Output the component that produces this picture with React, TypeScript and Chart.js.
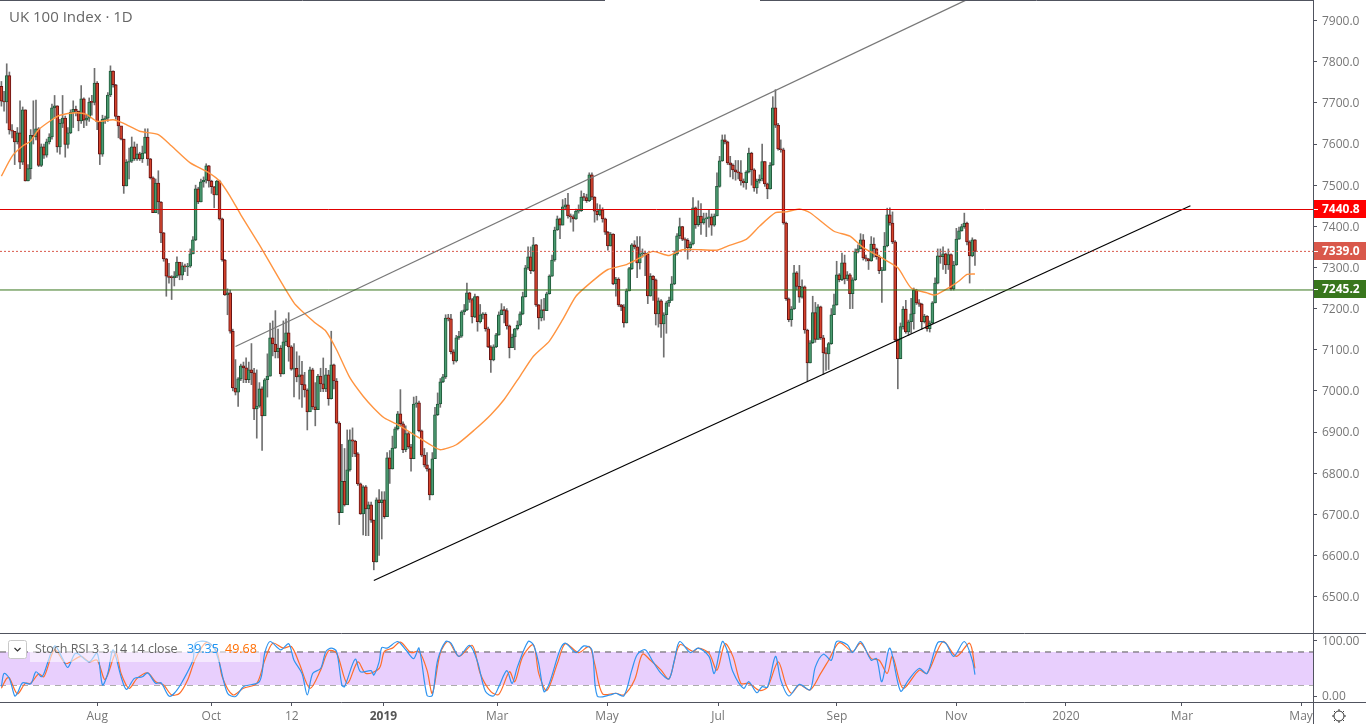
import React, { useEffect, useRef } from "react";
import { Chart, registerables } from "chart.js";

Chart.register(...registerables);

const title = "UK 100 Index · 1D";
const opens = [
7740,7704,7702,7766,7634,7631,7605,7627,7556,7683,
7510,7540,7621,7617,7637,7548,7593,7573,7605,7617,
7688,7693,7593,7650,7663,7599,7627,7677,7684,7680,
7656,7710,7658,7663,7702,7701,7748,7654,7575,7660,
7663,7719,7777,7744,7667,7644,7612,7498,7556,7558,
7593,7564,7576,7564,7578,7617,7564,7518,7433,7505,
7459,7384,7321,7279,7276,7275,7279,7313,7281,7304,
7301,7303,7333,7367,7491,7459,7508,7512,7547,7510,
7496,7476,7510,7418,7318,7233,7238,7145,7007,6997,
7029,7061,7056,7027,7051,7044,6956,6963,7005,6939,
7027,7036,7129,7114,7095,7104,7041,7119,7141,7107,
7053,7055,7034,7039,7015,7002,6949,7051,6961,6954,
7036,7017,7005,7039,6981,7063,7024,6922,6704,6780,
6723,6808,6881,6878,6847,6774,6701,6767,6713,6723,
6686,6584,6735,6728,6735,6694,6837,6810,6861,6908,
6944,6920,6857,6896,6864,6835,6968,6971,6903,6844,
6820,6810,6747,6835,6942,6968,7022,7034,7177,7175,
7095,7073,7129,7133,7192,7197,7238,7222,7180,7229,
7168,7185,7186,7151,7107,7075,7107,7136,7185,7197,
7195,7158,7105,7131,7151,7160,7187,7229,7299,7326,
7292,7355,7209,7177,7197,7195,7236,7279,7318,7391,
7418,7403,7447,7452,7425,7423,7418,7437,7438,7471,
7470,7462,7525,7471,7437,7428,7440,7418,7386,7352,
7381,7260,7272,7209,7204,7165,7243,7297,7355,7350,
7311,7333,7335,7332,7231,7279,7270,7187,7219,7163,
7185,7214,7220,7260,7333,7377,7399,7369,7366,7348,
7357,7445,7404,7425,7408,7418,7420,7423,7403,7425,
7497,7559,7610,7605,7554,7549,7537,7532,7530,7510,
7506,7532,7578,7537,7493,7510,7515,7557,7503,7491,
7549,7688,7646,7588,7586,7408,7224,7173,7199,7287,
7254,7228,7253,7148,7068,7117,7190,7125,7204,7129,
7092,7090,7115,7185,7209,7282,7270,7311,7272,7282,
7236,7270,7338,7345,7367,7323,7321,7316,7357,7345,
7326,7292,7293,7352,7428,7408,7362,7124,7078,7156,
7199,7143,7168,7187,7245,7214,7211,7168,7182,7151,
7165,7214,7262,7328,7326,7333,7306,7331,7248,7306,
7369,7389,7399,7408,7362,7328,7367];
const closes = [
7704,7702,7766,7634,7631,7605,7627,7556,7683,7510,
7540,7621,7617,7637,7548,7593,7573,7605,7617,7688,
7693,7593,7650,7663,7599,7627,7677,7684,7680,7656,
7710,7658,7663,7702,7701,7748,7654,7575,7660,7663,
7719,7777,7744,7667,7644,7612,7498,7556,7558,7593,
7564,7576,7564,7578,7617,7564,7518,7433,7505,7459,
7384,7321,7279,7276,7275,7279,7313,7281,7304,7301,
7303,7333,7367,7491,7459,7508,7512,7547,7510,7496,
7476,7510,7418,7318,7233,7238,7145,7007,6997,7029,
7061,7056,7027,7051,7044,6956,6963,7005,6939,7027,
7036,7129,7114,7095,7104,7041,7119,7141,7107,7053,
7055,7034,7039,7015,7002,6949,7051,6961,6954,7036,
7017,7005,7039,6981,7063,7024,6922,6704,6780,6723,
6808,6881,6878,6847,6774,6701,6767,6713,6723,6686,
6584,6735,6728,6735,6694,6837,6810,6861,6908,6944,
6920,6857,6896,6864,6835,6968,6971,6903,6844,6820,
6810,6747,6835,6942,6968,7022,7034,7177,7175,7095,
7073,7129,7133,7192,7197,7238,7222,7180,7229,7168,
7185,7186,7151,7107,7075,7107,7136,7185,7197,7195,
7158,7105,7131,7151,7160,7187,7229,7299,7326,7292,
7355,7209,7177,7197,7195,7236,7279,7318,7391,7418,
7403,7447,7452,7425,7423,7418,7437,7438,7471,7470,
7462,7525,7471,7437,7428,7440,7418,7386,7352,7381,
7260,7272,7209,7204,7165,7243,7297,7355,7350,7311,
7333,7335,7332,7231,7279,7270,7187,7219,7163,7185,
7214,7220,7260,7333,7377,7399,7369,7366,7348,7357,
7445,7404,7425,7408,7418,7420,7423,7403,7425,7497,
7559,7610,7605,7554,7549,7537,7532,7530,7510,7506,
7532,7578,7537,7493,7510,7515,7557,7503,7491,7549,
7688,7646,7588,7586,7408,7224,7173,7199,7287,7254,
7228,7253,7148,7068,7117,7190,7125,7204,7129,7092,
7090,7115,7185,7209,7282,7270,7311,7272,7282,7236,
7270,7338,7345,7367,7323,7321,7316,7357,7345,7326,
7292,7293,7352,7428,7408,7362,7124,7078,7156,7199,
7143,7168,7187,7245,7214,7211,7168,7182,7151,7165,
7214,7262,7328,7326,7333,7306,7331,7248,7306,7369,
7389,7399,7408,7362,7328,7367,7339];
const highs = [
7752,7728,7795,7775,7647,7627,7640,7705,7690,7683,
7550,7635,7705,7707,7640,7600,7600,7612,7625,7697,
7718,7693,7660,7718,7668,7640,7683,7705,7692,7680,
7742,7712,7672,7712,7718,7784,7752,7655,7670,7668,
7725,7790,7778,7745,7668,7642,7612,7562,7590,7617,
7605,7600,7580,7595,7637,7637,7565,7520,7515,7535,
7460,7385,7322,7310,7280,7290,7326,7312,7312,7308,
7310,7345,7375,7500,7495,7515,7520,7552,7548,7512,
7497,7512,7512,7420,7320,7248,7245,7150,7076,7032,
7065,7070,7080,7070,7115,7055,7051,7020,7010,7030,
7090,7165,7170,7195,7150,7110,7170,7175,7190,7110,
7115,7095,7085,7072,7045,7005,7058,7055,7020,7040,
7055,7080,7055,7050,7145,7065,7030,6925,6870,6860,
6905,6905,6910,6880,6850,6776,6770,6770,6730,6730,
6686,6740,6760,6755,6755,6850,6855,6890,6912,6950,
7003,6925,6915,6900,6870,6985,6987,6975,6905,6860,
6850,6812,6850,6960,6995,7030,7040,7185,7186,7186,
7100,7135,7145,7195,7210,7262,7240,7225,7235,7230,
7210,7190,7190,7155,7110,7112,7140,7192,7212,7205,
7200,7160,7138,7152,7170,7192,7240,7305,7350,7350,
7373,7356,7210,7222,7225,7240,7282,7330,7398,7425,
7420,7465,7468,7480,7430,7428,7442,7452,7486,7480,
7478,7530,7530,7472,7455,7452,7445,7420,7388,7385,
7382,7276,7275,7210,7210,7248,7300,7358,7365,7375,
7375,7345,7340,7336,7285,7280,7272,7226,7222,7190,
7218,7228,7278,7340,7382,7420,7400,7372,7370,7362,
7470,7447,7462,7455,7432,7432,7440,7430,7430,7530,
7570,7622,7622,7607,7570,7552,7560,7560,7560,7515,
7535,7590,7580,7540,7515,7525,7600,7558,7505,7555,
7715,7732,7650,7610,7590,7410,7226,7205,7305,7290,
7305,7270,7255,7150,7122,7230,7215,7210,7206,7135,
7105,7118,7200,7235,7315,7285,7335,7330,7290,7285,
7275,7345,7355,7382,7380,7330,7322,7375,7372,7347,
7330,7300,7385,7444,7445,7435,7365,7126,7165,7205,
7220,7172,7225,7250,7247,7222,7213,7186,7183,7170,
7217,7275,7345,7345,7350,7335,7345,7333,7315,7395,
7398,7405,7432,7410,7365,7372,7368];
const lows = [
7692,7680,7651,7624,7615,7550,7600,7540,7550,7510,
7510,7515,7600,7610,7545,7545,7565,7568,7600,7612,
7665,7580,7575,7640,7568,7590,7625,7640,7668,7632,
7650,7640,7645,7655,7670,7695,7635,7550,7570,7650,
7655,7715,7738,7660,7615,7610,7480,7498,7515,7555,
7560,7560,7560,7555,7578,7548,7515,7433,7433,7430,
7360,7315,7230,7262,7222,7255,7275,7270,7270,7290,
7280,7300,7333,7365,7455,7459,7495,7505,7495,7480,
7445,7476,7415,7315,7232,7185,7140,7000,6990,6962,
7025,7020,7020,7020,7015,6930,6885,6960,6855,6985,
6985,7036,7085,7080,7080,7035,7041,7110,7072,7050,
6985,7022,6980,6960,6985,6905,6950,6955,6915,6954,
6998,6998,6998,6965,6980,7005,6920,6675,6704,6720,
6725,6805,6840,6840,6770,6700,6650,6648,6648,6680,
6565,6584,6600,6640,6690,6694,6775,6810,6860,6905,
6915,6850,6852,6860,6805,6835,6960,6900,6840,6815,
6805,6735,6747,6835,6940,6960,7020,7030,7170,7090,
7065,7070,7125,7130,7185,7195,7215,7165,7178,7145,
7165,7175,7145,7105,7045,7073,7105,7135,7185,7165,
7150,7080,7105,7100,7148,7158,7185,7228,7295,7285,
7290,7205,7150,7170,7172,7195,7235,7278,7315,7390,
7370,7403,7440,7420,7410,7388,7417,7432,7436,7462,
7458,7460,7465,7410,7415,7425,7410,7380,7342,7352,
7258,7230,7205,7195,7155,7165,7243,7295,7345,7275,
7296,7325,7280,7212,7230,7220,7160,7155,7130,7082,
7140,7205,7220,7258,7330,7370,7365,7340,7320,7340,
7355,7395,7400,7380,7405,7375,7398,7378,7400,7425,
7495,7558,7600,7550,7520,7515,7512,7515,7500,7495,
7490,7530,7500,7485,7480,7505,7510,7497,7467,7490,
7548,7640,7585,7580,7405,7220,7168,7157,7198,7245,
7215,7225,7140,7023,7068,7115,7118,7125,7125,7040,
7050,7052,7113,7185,7208,7265,7268,7260,7268,7200,
7200,7268,7335,7345,7318,7315,7295,7315,7325,7320,
7285,7215,7293,7350,7403,7358,7120,7005,7078,7150,
7140,7135,7140,7150,7210,7205,7150,7165,7145,7143,
7163,7214,7260,7310,7295,7285,7295,7245,7245,7305,
7368,7388,7395,7355,7262,7326,7305];

const maBars = [0,4,8,11,14,19,22,28,32,36,42,46,52,59,64,71,78,82,86,90,97,110,118,122,126,131,136,140,144,149,155,161,165,171,178,184,189,195,200,206,211,216,223,228,235,240,245,251,256,263,269,273,280,285,291,295,300,304,313,319,324,331,337,342,348,351,357,360,363,366];
const maValues = [7522,7570,7595,7607,7635,7659,7670,7676,7672,7655,7659,7650,7631,7623,7595,7554,7530,7510,7473,7428,7355,7214,7165,7145,7100,7032,6987,6958,6934,6918,6894,6870,6857,6869,6906,6942,6979,7036,7084,7121,7173,7230,7271,7295,7307,7323,7339,7329,7343,7343,7342,7352,7368,7400,7433,7435,7442,7433,7388,7376,7348,7323,7299,7250,7238,7233,7254,7267,7283,7284];

const kBars = [0,1,3,5,6,8,11,13,15,16,20,23,25,28,33,36,38,40,42,45,47,50,53,55,58,60,63,65,68,72,73,77,80,82,85,88,91,97,99,101,105,108,110,113,115,117,120,122,124,126,128,129,133,135,139,140,142,143,145,149,152,155,157,160,162,164,167,169,172,176,179,182,185,187,190,192,194,198,200,202,204,206,210,212,216,219,222,224,229,231,234,237,239,242,245,248,251,253,255,259,262,266,268,271,273,275,279,281,284,286,288,291,293,296,300,304,306,309,312,314,318,320,323,327,329,331,334,338,341,345,348,352,355,358,362,365,366];
const kValues = [17,41,32,0,5,24,22,44,35,41,91,68,52,78,62,78,20,41,84,35,12,32,35,42,23,24,0,5,26,65,96,99,87,59,5,-1,17,26,78,99,84,95,65,41,2,41,50,81,87,81,20,17,67,44,46,38,62,88,87,99,84,68,87,1,1,65,99,96,72,92,62,8,0,17,46,23,53,99,93,59,8,23,84,96,79,91,84,0,2,5,0,47,75,84,62,41,31,65,99,79,87,72,41,99,81,44,14,26,6,17,16,72,29,0,21,11,53,76,65,99,93,79,99,65,68,26,87,9,29,50,41,97,96,72,99,65,39];
const dBars = [0,2,3,6,9,11,14,16,20,24,26,30,33,36,39,43,45,48,51,55,58,61,64,67,70,73,77,81,83,87,91,96,99,102,106,109,112,116,120,123,126,130,134,137,142,144,147,150,154,157,160,162,165,168,172,177,180,184,187,191,193,196,200,202,205,209,212,217,221,223,226,231,234,238,241,244,248,251,255,260,262,266,269,272,275,278,281,285,288,292,295,297,300,304,308,311,315,320,323,327,330,333,335,339,345,348,354,359,364,366];
const dValues = [14,32,33,4,23,23,40,35,84,59,62,72,62,65,30,78,41,14,32,42,26,20,2,5,29,68,97,81,35,2,14,23,65,96,87,90,59,14,47,82,78,23,62,41,50,81,87,98,79,81,47,5,78,99,72,92,41,8,3,44,26,72,93,41,10,59,95,79,90,59,4,5,2,29,76,65,47,31,93,81,87,78,47,95,72,23,23,10,16,62,20,5,20,11,41,65,97,81,96,68,65,41,72,14,47,41,99,72,96,50];

const upperBarBar = [88, 363];
const upperBarValue = [7108, 7951];
const lowerLineBar = [140, 447];
const lowerLineValue = [6539, 7450];
const resistance = 7440.8;
const lastClose = 7339.0;
const support = 7245.2;
const priceTicks = [6500,6600,6700,6800,6900,7000,7100,7200,7300,7400,7500,7600,7700,7800,7900];
const stochTicks = [0, 100];
const stochBands = [80, 20];
const timeTickBars = [36, 78.9, 109.2, 143.6, 186.4, 227.7, 269.4, 314.1, 358.9, 400.2, 443.8, 488.6];
const timeTickLabels = ["Aug", "Oct", "12", "2019", "Mar", "May", "Jul", "Sep", "Nov", "2020", "Mar", "May"];
const stochName = "Stoch RSI 3 3 14 14 close";
const stochK = "39.35";
const stochD = "49.68";

const X_MIN = -0.526;
const X_MAX = 493.08;
const FONT = '"Open Sans", sans-serif';

const noPad = (s: any) => {
  s.paddingTop = 0;
  s.paddingBottom = 0;
  s.paddingLeft = 0;
  s.paddingRight = 0;
};

const chrome = {
  id: "chrome",
  afterDraw(chart: any) {
    const c = chart.ctx;
    const { x, y } = chart.scales;
    const right = x.right;
    c.save();
    c.strokeStyle = "#50535e";
    c.lineWidth = 1;
    c.beginPath();
    c.moveTo(0, 633.5); c.lineTo(1366, 633.5);
    c.moveTo(0, 702.5); c.lineTo(1366, 702.5);
    c.moveTo(right + 0.5, 0); c.lineTo(right + 0.5, 724);
    c.moveTo(0, 0.5); c.lineTo(605, 0.5);
    c.moveTo(760, 0.5); c.lineTo(right, 0.5);
    c.stroke();
    c.font = `15px ${FONT}`;
    c.fillStyle = "#666";
    c.textBaseline = "middle";
    c.textAlign = "left";
    c.fillText(title, 9, 18);
    const boxes = [[resistance, "#ff0000"], [lastClose, "#d9584b"], [support, "#38761d"]];
    boxes.forEach(([v, col]: any) => {
      const py = Math.floor(y.getPixelForValue(v));
      c.fillStyle = col;
      c.fillRect(right + 1, py - 9, 1366 - right, 18);
      c.strokeStyle = "#fff";
      c.beginPath(); c.moveTo(right + 1, py + 0.5); c.lineTo(right + 5, py + 0.5); c.stroke();
      c.fillStyle = "#fff";
      c.font = `bold 12px ${FONT}`;
      c.fillText(v.toFixed(1), right + 9, py + 1);
    });
    c.fillStyle = "rgba(255,255,255,0.55)";
    c.fillRect(30, 640, 230, 22);
    c.fillStyle = "#fff";
    c.strokeStyle = "#c8c8c8";
    c.beginPath();
    c.roundRect(8.5, 640.5, 18, 18, 2);
    c.fill(); c.stroke();
    c.strokeStyle = "#333";
    c.lineWidth = 1.2;
    c.beginPath();
    c.moveTo(14.5, 648); c.lineTo(17.5, 651); c.lineTo(20.5, 648);
    c.stroke();
    c.font = `12.5px ${FONT}`;
    c.fillStyle = "#666";
    c.fillText(stochName, 35, 649.5);
    c.fillStyle = "#2196f3";
    c.fillText(stochK, 187, 649.5);
    c.fillStyle = "#ff6d00";
    c.fillText(stochD, 225, 649.5);
    c.strokeStyle = "#333";
    c.lineWidth = 1;
    c.beginPath();
    c.arc(1339, 716, 5, 0, Math.PI * 2);
    for (let a = 0; a < 8; a++) {
      const t = (a * Math.PI) / 4;
      c.moveTo(1339 + Math.cos(t) * 5, 716 + Math.sin(t) * 5);
      c.lineTo(1339 + Math.cos(t) * 7, 716 + Math.sin(t) * 7);
    }
    c.stroke();
    c.restore();
  },
};

const lineSet = (bars: number[], vals: number[], color: string, width: number, axis: string, extra: any = {}) => ({
  type: "line",
  data: bars.map((b, i) => ({ x: b, y: vals[i] })),
  borderColor: color,
  borderWidth: width,
  pointRadius: 0,
  fill: false,
  yAxisID: axis,
  ...extra,
});

export default function App() {
  const ref = useRef<HTMLCanvasElement>(null);
  useEffect(() => {
    const up = closes.map((c, i) => c >= opens[i]);
    const chart = new Chart(ref.current as any, {
      type: "bar",
      plugins: [chrome],
      data: {
        datasets: [
          lineSet([X_MIN, X_MAX], [resistance, resistance], "#e00000", 1, "y", { order: 0 }),
          lineSet([X_MIN, X_MAX], [support, support], "#38761d", 1, "y", { order: 0 }),
          lineSet([X_MIN, X_MAX], [lastClose, lastClose], "#d9584b", 1, "y", { order: 0, borderDash: [2, 2] }),
          lineSet(upperBarBar, upperBarValue, "#787878", 1.2, "y", { order: 0 }),
          lineSet(lowerLineBar, lowerLineValue, "#000", 1.2, "y", { order: 0 }),
          lineSet(maBars, maValues, "#ff9440", 1.4, "y", { order: 1, tension: 0.2 }),
          {
            data: closes.map((c, i) => ({ x: i, y: [opens[i], c] })),
            backgroundColor: up.map((u) => (u ? "#4a9a70" : "#d4432c")),
            borderColor: up.map((u) => (u ? "#1f5a3a" : "#681212")),
            borderWidth: 1,
            borderSkipped: false,
            barThickness: 3,
            grouped: false,
            minBarLength: 1,
            yAxisID: "y",
            order: 2,
          },
          {
            data: lows.map((l, i) => ({ x: i, y: [l, highs[i]] })),
            backgroundColor: "#707070",
            barThickness: 1,
            grouped: false,
            yAxisID: "y",
            order: 4,
          },
          lineSet([X_MIN, X_MAX], [stochBands[0], stochBands[0]], "#555", 1, "y2", { order: 6, borderDash: [6, 5], fill: "+1", backgroundColor: "#e8cffd" }),
          lineSet([X_MIN, X_MAX], [stochBands[1], stochBands[1]], "#555", 1, "y2", { order: 6, borderDash: [6, 5] }),
          lineSet(dBars, dValues, "#ff6d2a", 1.2, "y2", { order: 1, tension: 0.3 }),
          lineSet(kBars, kValues, "#2f94f0", 1.2, "y2", { order: 0, tension: 0.3 }),
        ] as any,
      },
      options: {
        animation: false,
        responsive: false,
        layout: { padding: 0, autoPadding: false },
        plugins: { legend: { display: false }, tooltip: { enabled: false } },
        scales: {
          x: {
            type: "linear",
            offset: false,
            min: X_MIN,
            max: X_MAX,
            afterFit: (s: any) => { s.height = 22; noPad(s); },
            afterBuildTicks: (s: any) => { s.ticks = timeTickBars.map((value) => ({ value })); },
            grid: { drawOnChartArea: false, tickLength: 4, color: "#50535e", offset: false },
            border: { display: false },
            ticks: {
              autoSkip: false,
              maxRotation: 0,
              padding: 3,
              color: (ctx: any) => (ctx.tick && ctx.tick.label === "2019" ? "#555" : "#777"),
              font: (ctx: any) => ({ family: FONT, size: 12, weight: ctx.tick && ctx.tick.label === "2019" ? "bold" : "normal" }),
              callback: (v: any) => timeTickLabels[timeTickBars.indexOf(v)],
            },
          },
          y: {
            position: "right",
            stack: "panes",
            stackWeight: 633,
            min: 6411.5,
            max: 7950,
            afterFit: (s: any) => { s.width = 53; noPad(s); },
            afterBuildTicks: (s: any) => { s.ticks = priceTicks.map((value) => ({ value })); },
            grid: { drawOnChartArea: false, tickLength: 4, color: "#50535e" },
            border: { display: false },
            ticks: { color: "#777", font: { family: FONT, size: 12 }, padding: 5, labelOffset: 1, callback: (v: any) => Number(v).toFixed(1) },
          },
          y2: {
            position: "right",
            stack: "panes",
            stackWeight: 69,
            min: -10.9,
            max: 114.5,
            afterFit: (s: any) => { s.width = 53; noPad(s); },
            afterBuildTicks: (s: any) => { s.ticks = stochTicks.map((value) => ({ value })); },
            grid: { drawOnChartArea: false, tickLength: 4, color: "#50535e" },
            border: { display: false },
            ticks: { color: "#777", font: { family: FONT, size: 12 }, padding: 5, labelOffset: 1, callback: (v: any) => Number(v).toFixed(2) },
          },
        },
      } as any,
    } as any);
    return () => chart.destroy();
  }, []);
  return (
    <div style={{ position: "fixed", left: 0, top: 0, width: 1366, height: 724, background: "#fff" }}>
      <canvas ref={ref} width={1366} height={724} style={{ display: "block" }} />
    </div>
  );
}
